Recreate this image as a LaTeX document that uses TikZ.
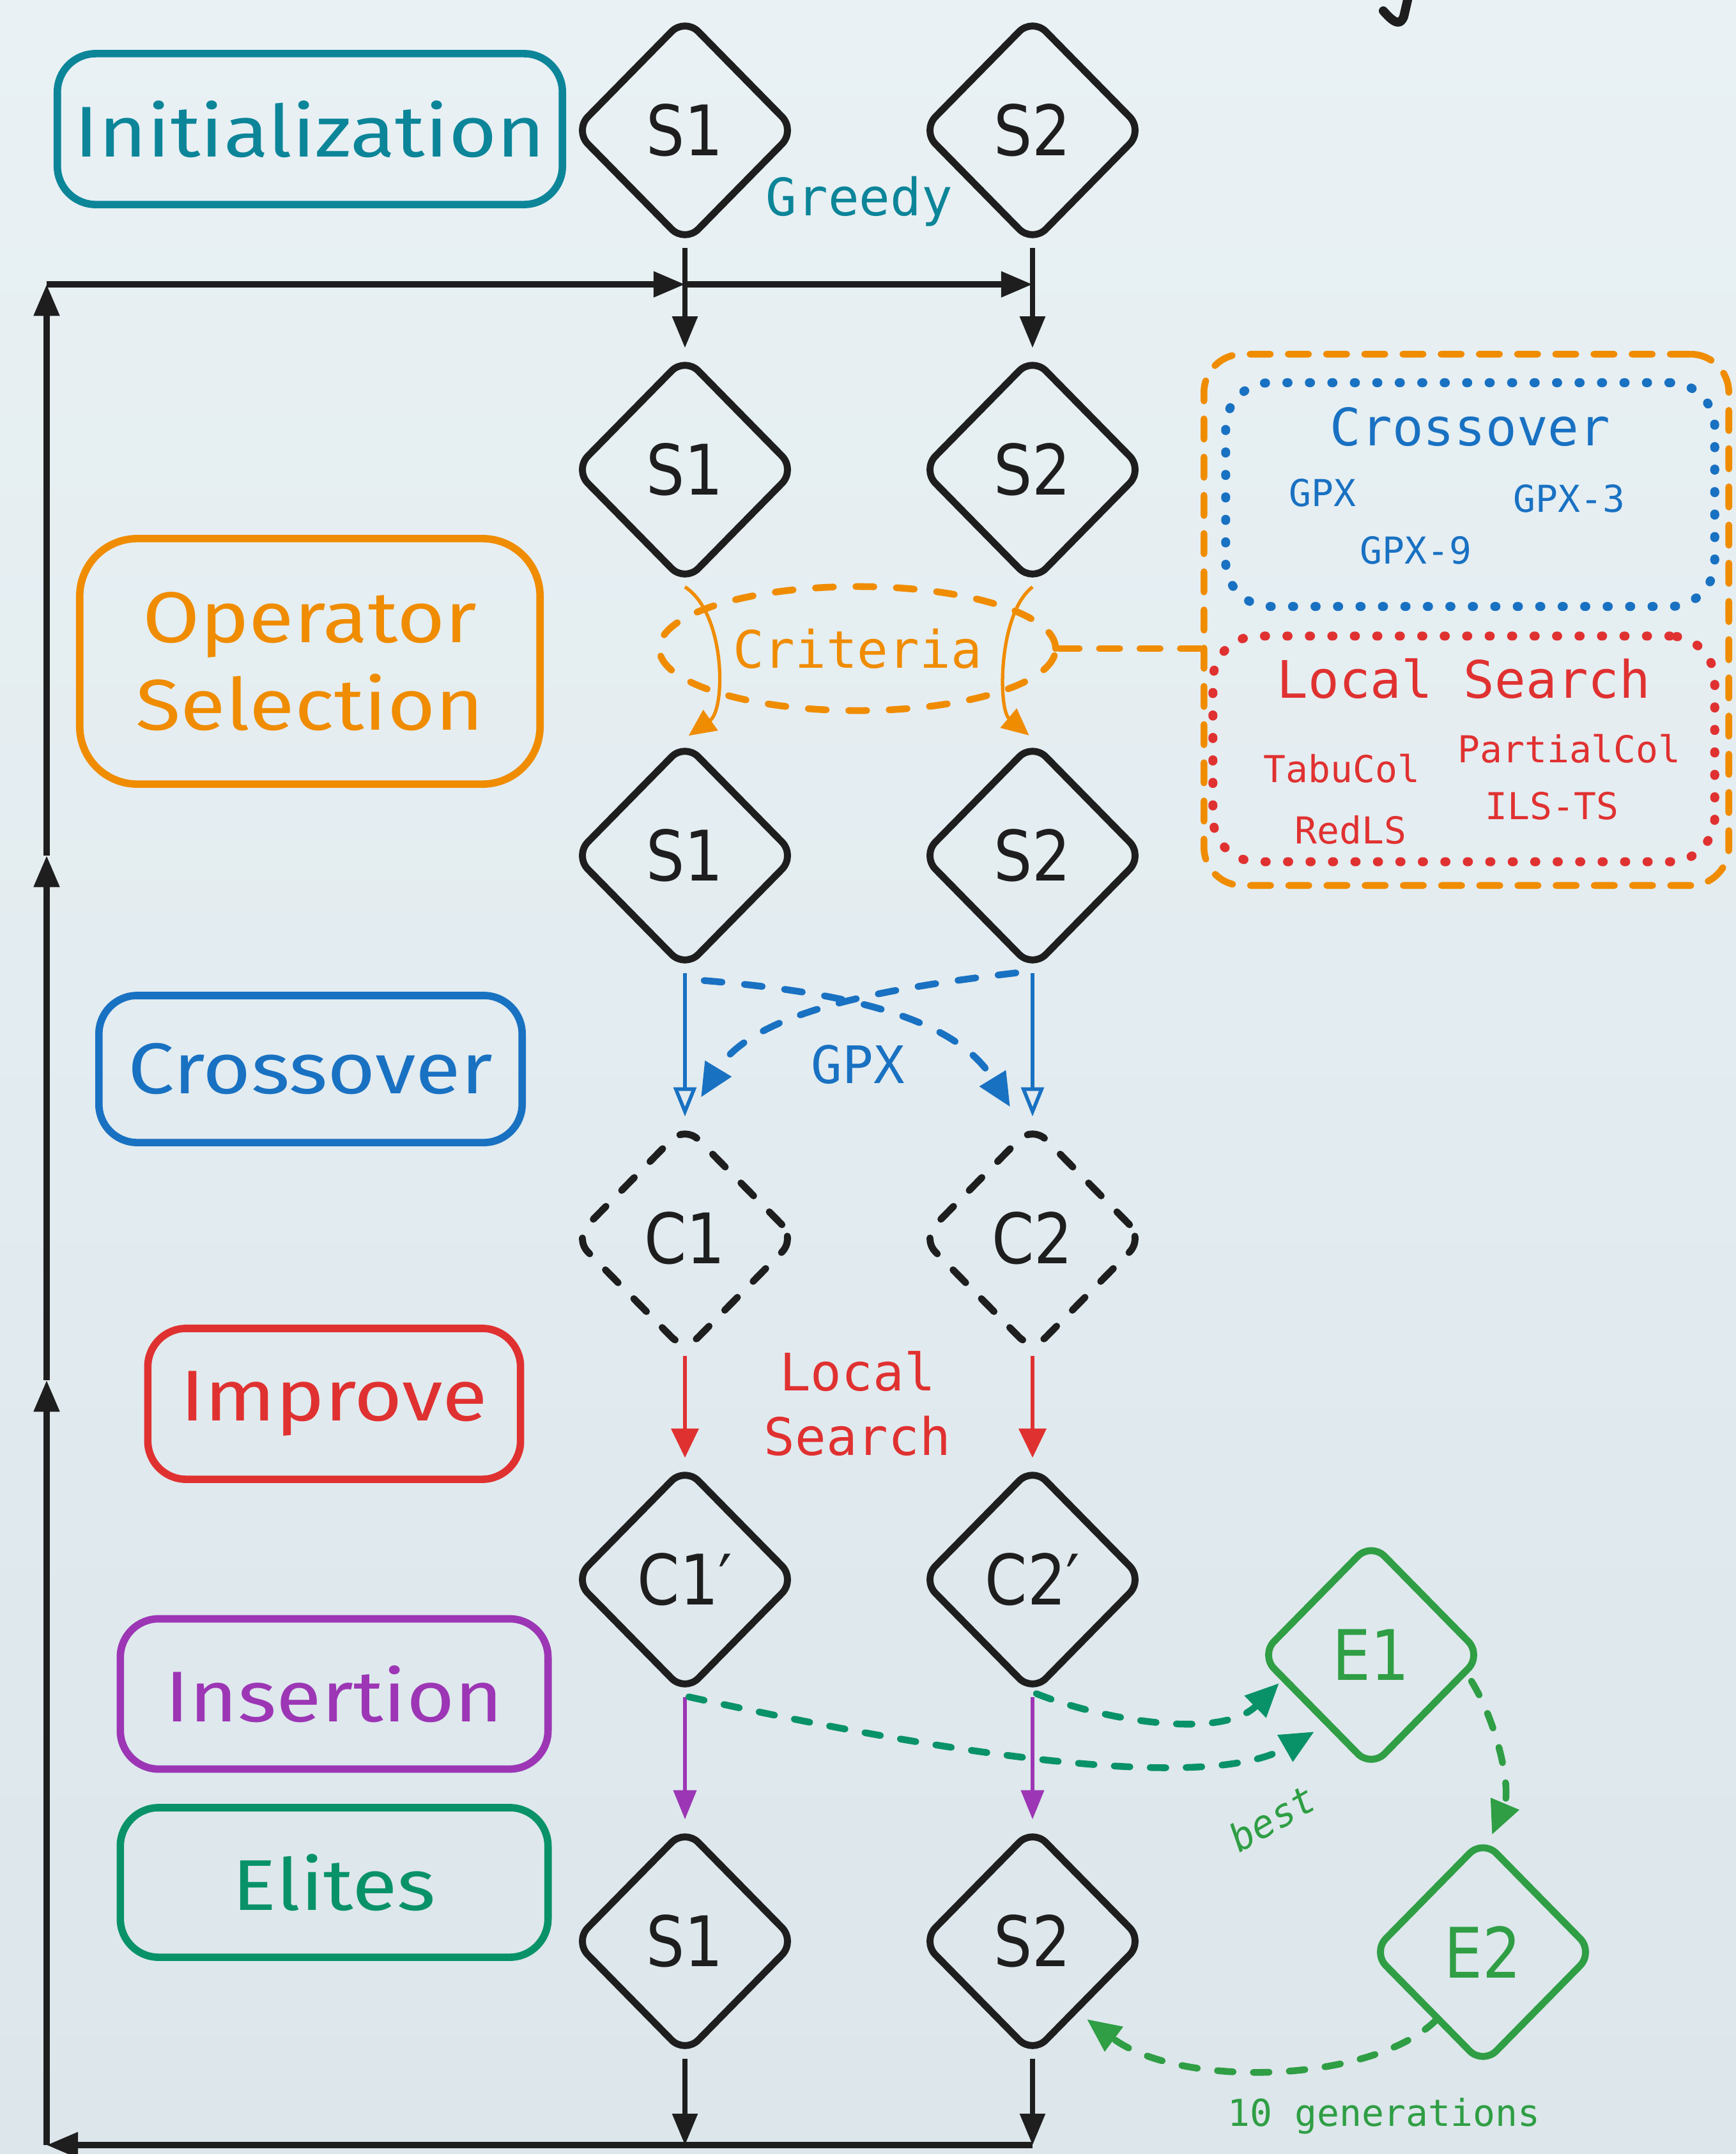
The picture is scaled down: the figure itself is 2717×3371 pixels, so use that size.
\documentclass[tikz,border=0pt]{standalone}
\usepackage{fontspec}
\setmainfont{DejaVu Sans}
\newfontfamily\monof{DejaVu Sans Mono}
\newfontfamily\diaf[FakeStretch=0.87]{DejaVu Sans}
\newfontfamily\handf[FakeStretch=1.15]{Fira Sans}
\usetikzlibrary{arrows.meta,shapes.geometric,calc}
\definecolor{cblack}{HTML}{1E1E1E}
\definecolor{cteal}{HTML}{0C8599}
\definecolor{corange}{HTML}{F08C00}
\definecolor{cblue}{HTML}{1971C2}
\definecolor{cred}{HTML}{E03131}
\definecolor{cpurple}{HTML}{9C36B5}
\definecolor{celite}{HTML}{099268}
\definecolor{cgreen}{HTML}{2F9E44}
\definecolor{bgtop}{HTML}{E9F1F4}
\definecolor{bgbot}{HTML}{DCE6EB}
\begin{document}
\begin{tikzpicture}[x=0.01cm,y=-0.01cm,
  dia/.style={diamond, draw=cblack, line width=3.1pt, rounded corners=0.3cm,
    minimum width=3.50cm, minimum height=3.56cm, inner sep=0pt, text=cblack,
    font=\diaf\fontsize{31}{36}\selectfont},
  cdia/.style={dia, dash pattern=on 8pt off 10pt, line cap=round},
  edia/.style={dia, draw=cgreen, text=cgreen},
  lab/.style={draw, rounded corners=0.6cm, line width=3.3pt, inner sep=0pt,
    align=center, font=\handf\fontsize{32}{39}\selectfont},
  mono/.style={font=\monof\fontsize{23}{28.7}\selectfont},
  smono/.style={font=\monof\fontsize{16.5}{20}\selectfont},
  blk/.style={draw=cblack, line width=2pt, shorten >=2pt, -{Triangle[length=14pt,width=11pt]}},
  loopl/.style={draw=cblack, line width=2.6pt, -{Triangle[length=14pt,width=11pt]}},
  oarr/.style={draw=corange, line width=1.5pt, shorten >=2pt, -{Triangle[length=12pt,width=11pt]}},
  barr/.style={draw=cblue, line width=1.6pt, shorten >=2pt, -{Triangle[open,length=13pt,width=10pt,line width=1.6pt]}},
  bdash/.style={draw=cblue, line width=3pt, dash pattern=on 8pt off 10pt, line cap=round, -{Triangle[length=15pt,width=13pt]}},
  rarr/.style={draw=cred, line width=1.8pt, shorten >=2pt, -{Triangle[length=13pt,width=12pt]}},
  parr/.style={draw=cpurple, line width=1.8pt, shorten >=2pt, -{Triangle[length=13pt,width=10pt]}},
  gdash/.style={line width=3pt, dash pattern=on 7pt off 9pt, line cap=round, -{Triangle[length=15pt,width=13pt]}},
  dotbox/.style={line width=4pt, dash pattern=on 0.5pt off 9.5pt, line cap=round, rounded corners=0.7cm}
]
% background
\fill[top color=bgtop, bottom color=bgbot] (0,0) rectangle (2717,3371);
\useasboundingbox (0,0) rectangle (2717,3371);

% fragment of cut-off title glyph
\draw[cblack, line width=4pt, line cap=round, line join=round] (2203,0) -- (2197,26) .. controls (2192,38) and (2185,40) .. (2165,17);

% stage labels
\node[lab, draw=cteal, text=cteal, minimum width=7.9cm, minimum height=2.36cm] (init) at (485,202) {Initialization};
\node[lab, draw=corange, text=corange, rounded corners=0.9cm, minimum width=7.2cm, minimum height=3.84cm] (opsel) at (485,1035) {Operator\\Selection};
\node[lab, draw=cblue, text=cblue, minimum width=6.62cm, minimum height=2.30cm] (xover) at (486,1673) {Crossover};
\node[lab, draw=cred, text=cred, minimum width=5.83cm, minimum height=2.36cm] (improve) at (523,2197) {Improve};
\node[lab, draw=cpurple, text=cpurple, minimum width=6.69cm, minimum height=2.35cm] (insert) at (523,2651) {Insertion};
\node[lab, draw=celite, text=celite, minimum width=6.69cm, minimum height=2.34cm] (elites) at (523,2946) {Elites};

% diamonds
\node[dia] (a1) at (1072,204) {S1};
\node[dia] (b1) at (1616,204) {S2};
\node[dia] (a2) at (1072,735) {S1};
\node[dia] (b2) at (1616,735) {S2};
\node[dia] (a3) at (1072,1339) {S1};
\node[dia] (b3) at (1616,1339) {S2};
\node[cdia] (c1) at (1072,1938) {C1};
\node[cdia] (c2) at (1616,1938) {C2};
\node[dia] (d1) at (1072,2472) {C1′};
\node[dia] (d2) at (1616,2472) {C2′};
\node[dia] (f1) at (1072,3038) {S1};
\node[dia] (f2) at (1616,3038) {S2};
\node[edia] (e1) at (2146,2590) {E1};
\node[edia] (e2) at (2321,3055) {E2};

% operator pool
\node[draw=corange, line width=3pt, dash pattern=on 9pt off 8pt, line cap=round, rounded corners=0.6cm, minimum width=8.21cm, minimum height=8.31cm] (ops) at (2295,970) {};
\node[dotbox, draw=cblue, minimum width=7.65cm, minimum height=3.50cm] (xbox) at (2301,774) {};
\node[dotbox, draw=cred, minimum width=7.85cm, minimum height=3.53cm] (lbox) at (2291,1172) {};
\node[mono, text=cblue, anchor=base] (xtitle) at (2301,697) {Crossover};
\node[smono, text=cblue, anchor=base] (gpx) at (2070,792) {GPX};
\node[smono, text=cblue, anchor=base] (gpx3) at (2456,801) {GPX-3};
\node[smono, text=cblue, anchor=base] (gpx9) at (2216,882) {GPX-9};
\node[mono, text=cred, anchor=base] (ltitle) at (2291,1092) {Local Search};
\node[smono, text=cred, anchor=base] (tabu) at (2100,1224) {TabuCol};
\node[smono, text=cred, anchor=base] (partial) at (2456,1193) {PartialCol};
\node[smono, text=cred, anchor=base] (ils) at (2429,1282) {ILS-TS};
\node[smono, text=cred, anchor=base] (redls) at (2114,1320) {RedLS};

% edge labels
\node[mono, text=cteal, anchor=base] (greedy) at (1345,337) {Greedy};
\node[draw=corange, ellipse, line width=3pt, dash pattern=on 8pt off 10pt, line cap=round, minimum width=6.2cm, minimum height=1.94cm, inner sep=0pt, text=corange, mono] (crit) at (1342,1015) {Criteria};
\node[mono, text=cblue, anchor=base] (gpxm) at (1343,1695) {GPX};
\node[mono, text=cred, align=center] (lsm) at (1342,2197) {Local\\Search};
\node[font=\monof\itshape\fontsize{17}{20}\selectfont, text=cgreen, rotate=30, inner sep=0pt] (best) at (1991,2845) {best};
\node[smono, text=cgreen, anchor=base] (gens) at (2166,3327) {10 generations};

% main loop
\coordinate (ltop) at (73,445);
\coordinate (lbot) at (73,3357);
\coordinate (lm1) at (73,2160);
\coordinate (lm2) at (73,1339);
\draw[blk] (a1.south) -- (a2.north);
\draw[blk] (b1.south) -- (b2.north);
\draw[loopl] (ltop) -- (a1.south |- ltop);
\draw[loopl] (a1.south |- ltop) -- (b1.south |- ltop);
\draw[loopl] (lbot) -- (lm1);
\draw[loopl] (lm1) -- (lm2);
\draw[loopl] (lm2) -- (ltop);
\draw[blk, shorten >=0pt] (f1.south) -- (f1.south |- lbot);
\draw[blk, shorten >=0pt] (f2.south) -- (f2.south |- lbot);
\draw[loopl] (f2.south |- lbot) -- (lbot);

% operator selection
\draw[oarr] (a2.south) .. controls (1136,960) and (1136,1110) .. (a3.north);
\draw[oarr] (b2.south) .. controls (1562,960) and (1562,1110) .. (b3.north);
\draw[draw=corange, line width=3pt, dash pattern=on 9pt off 9pt, line cap=round] (crit.east) -- (crit.east -| ops.west);

% crossover
\draw[barr] (a3.south) -- (c1.north);
\draw[barr] (b3.south) -- (c2.north);
\draw[bdash] ($(a3.south)+(30,12)$) .. controls (1350,1555) and (1500,1600) .. ($(c2.north)+(-35,-22)$);
\draw[bdash] ($(b3.south)+(-26,0)$) .. controls (1400,1545) and (1180,1580) .. ($(c1.north)+(25,-37)$);

% improve
\draw[rarr] (c1.south) -- (d1.north);
\draw[rarr] (c2.south) -- (d2.north);

% insertion
\draw[parr] (d1.south) -- (f1.north);
\draw[parr] (d2.south) -- (f2.north);

% elites
\draw[gdash, draw=celite] ($(d1.south)+(6,0)$) .. controls (1550,2760) and (1900,2800) .. ($(e1.center)+(-89,120)$);
\draw[gdash, draw=celite] ($(d2.south)+(6,-5)$) .. controls (1720,2690) and (1910,2725) .. ($(e1.center)+(-144,44)$);
\draw[gdash, draw=cgreen] ($(e1.center)+(157,41)$) .. controls (2345,2700) and (2365,2800) .. ($(e2.north)+(14,0)$);
\draw[gdash, draw=cgreen] ($(e2.center)+(-72,105)$) .. controls (2150,3260) and (1850,3270) .. ($(f2.center)+(85,122)$);
\end{tikzpicture}
\end{document}
